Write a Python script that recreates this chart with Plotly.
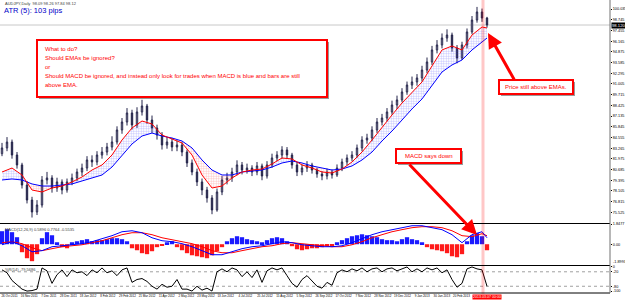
import plotly.graph_objects as go
from plotly.subplots import make_subplots

# ---------------- data ----------------
first_open = 82.6
close = [83.29, 84.00, 82.44, 81.24, 78.82, 77.01, 75.57, 76.41, 79.43, 79.67,
         78.46, 79.19, 78.22, 79.19, 79.67, 80.39, 80.87, 81.84, 81.60, 82.44,
         82.80, 83.41, 84.01, 85.46, 86.42, 87.51, 86.06, 87.63, 88.35, 86.66,
         85.70, 84.85, 83.65, 84.01, 83.41, 83.65, 82.80, 81.48, 80.39, 79.19,
         78.22, 77.26, 75.81, 77.98, 79.43, 79.67, 80.39, 81.24, 80.63, 80.87,
         80.39, 81.12, 79.91, 81.24, 82.08, 82.44, 83.05, 82.44, 81.24, 80.39,
         80.87, 81.24, 80.63, 80.15, 79.91, 80.39, 80.03, 80.87, 81.60, 82.08,
         82.44, 83.29, 84.25, 84.49, 85.46, 86.42, 86.90, 87.63, 88.47, 89.08,
         90.04, 90.88, 91.25, 91.73, 92.69, 93.66, 95.11, 95.71, 96.55, 96.91,
         95.35, 94.14, 95.71, 97.28, 98.72, 99.69, 98.96, 98.12]
high = [83.9, 84.6, 84.3, 82.8, 81.5, 79.3, 77.4, 77.0, 79.9, 80.4,
        80.0, 79.7, 79.5, 79.6, 80.2, 80.8, 81.4, 82.3, 82.4, 82.9,
        83.4, 83.9, 84.7, 85.9, 86.9, 88.1, 87.9, 88.2, 89.1, 88.6,
        87.2, 86.1, 85.2, 84.6, 84.5, 84.2, 84.0, 83.1, 81.9, 80.8,
        79.6, 78.6, 77.6, 78.4, 79.9, 80.3, 80.9, 81.8, 81.6, 81.4,
        81.2, 81.6, 81.4, 81.7, 82.6, 82.9, 83.5, 83.4, 82.7, 81.6,
        81.3, 81.7, 81.5, 80.9, 80.5, 80.8, 80.7, 81.3, 82.0, 82.5,
        82.9, 83.7, 84.7, 85.0, 85.9, 86.9, 87.4, 88.1, 89.0, 89.6,
        90.5, 91.3, 91.9, 92.2, 93.2, 94.2, 95.6, 96.3, 97.1, 97.6,
        97.2, 95.7, 96.1, 97.7, 99.2, 100.3, 100.1, 99.1]
low = [82.3, 82.9, 82.0, 80.8, 78.4, 76.6, 74.9, 75.2, 76.1, 78.9,
       77.9, 78.0, 77.7, 77.9, 78.8, 79.3, 79.9, 80.5, 81.0, 81.2,
       82.0, 82.4, 83.0, 83.7, 85.0, 86.0, 85.5, 85.7, 87.2, 86.2,
       85.1, 84.3, 83.1, 83.2, 82.9, 82.9, 82.3, 81.0, 80.0, 78.7,
       77.6, 76.7, 75.3, 75.6, 77.6, 78.9, 79.2, 80.0, 80.1, 80.2,
       79.9, 80.0, 79.4, 79.6, 80.9, 81.7, 82.0, 82.0, 80.8, 79.9,
       80.0, 80.4, 80.2, 79.7, 79.4, 79.5, 79.6, 79.8, 80.5, 81.2,
       81.7, 82.1, 82.9, 83.8, 84.1, 85.1, 86.0, 86.5, 87.3, 88.0,
       88.8, 89.7, 90.4, 90.8, 91.3, 92.3, 93.3, 94.7, 95.3, 96.1,
       94.9, 93.5, 93.9, 95.3, 97.0, 98.4, 98.5, 97.8]

ema_x = [0, 2, 4, 6, 8, 10, 12, 14, 16, 18, 20, 22, 24, 26, 28, 30, 32, 34, 36, 38,
         40, 42, 44, 46, 48, 50, 52, 54, 56, 58, 60, 62, 64, 66, 68, 70, 72, 74, 76, 78,
         80, 82, 84, 86, 88, 90, 92, 94, 96, 97]
ema_fast = [80.39, 80.87, 80.03, 78.22, 77.98, 78.46, 78.70, 79.19, 79.79, 80.63,
            81.24, 82.44, 84.25, 85.70, 86.54, 86.18, 84.85, 84.37, 83.89, 82.44,
            80.03, 78.46, 78.70, 79.67, 80.39, 80.63, 80.75, 81.36, 82.08, 81.96,
            81.24, 80.87, 80.39, 80.27, 80.75, 81.60, 82.80, 84.25, 85.82, 87.27,
            88.71, 90.04, 91.25, 93.18, 95.11, 95.59, 95.11, 96.91, 97.88, 97.76]
ema_slow = [79.43, 79.55, 79.43, 78.95, 78.70, 78.70, 78.82, 78.95, 79.31, 79.67,
            80.03, 80.99, 82.44, 83.77, 84.73, 85.09, 84.73, 84.49, 84.13, 83.29,
            81.84, 80.63, 80.03, 80.03, 80.39, 80.51, 80.63, 80.99, 81.48, 81.72,
            81.48, 81.12, 80.87, 80.63, 80.75, 81.12, 81.84, 82.80, 84.13, 85.33,
            86.66, 88.00, 89.20, 90.78, 92.45, 93.30, 93.90, 95.11, 96.07, 96.55]

macd_main = [-0.05, 0.23, -0.14, -0.69, -0.59, -0.23, -0.14, -0.05, 0.05, 0.23,
             0.50, 0.78, 1.14, 1.23, 1.05, 0.59, 0.32, 0.23, 0.05, -0.23,
             -0.59, -0.96, -0.96, -0.69, -0.41, -0.23, -0.14, 0.05, 0.23, 0.14,
             -0.05, -0.14, -0.23, -0.23, -0.14, 0.14, 0.50, 0.87, 1.14, 1.33,
             1.51, 1.69, 1.69, 1.51, 1.33, 0.87, 0.14, 0.87, 1.14, 0.59]
macd_signal = [0.14, 0.23, 0.05, -0.32, -0.59, -0.41, -0.23, -0.14, -0.05, 0.14,
               0.32, 0.59, 0.87, 1.05, 1.05, 0.87, 0.59, 0.41, 0.23, 0.05,
               -0.23, -0.59, -0.78, -0.78, -0.59, -0.41, -0.23, -0.14, 0.05, 0.14,
               0.05, -0.05, -0.14, -0.23, -0.23, -0.05, 0.23, 0.59, 0.87, 1.14,
               1.33, 1.51, 1.60, 1.60, 1.51, 1.23, 0.78, 0.69, 0.96, 0.78]
macd_hist = [1.19, 1.37, 1.10, 0.64, -0.73, -1.28, -1.55, -0.91, 0.55, 1.10,
             0.82, 0.18, -0.27, -0.37, 0.18, 0.27, 0.37, 0.46, 0.27, 0.37,
             0.37, 0.46, 0.55, 0.55, 0.46, 0.27, -0.37, -0.55, -0.82, -0.91,
             -0.64, -0.27, -0.09, 0.18, 0.27, -0.27, -0.55, -0.82, -1.01, -1.10,
             -1.19, -1.28, -1.01, -0.64, -0.27, 0.27, 0.55, 0.73, 0.64, 0.46,
             0.37, 0.27, 0.18, 0.37, 0.55, 0.64, 0.55, 0.27, -0.18, -0.46,
             -0.55, -0.46, -0.37, -0.37, -0.27, -0.18, -0.18, 0.18, 0.37, 0.55,
             0.73, 0.82, 0.91, 0.82, 0.73, 0.64, 0.46, 0.37, 0.37, 0.27,
             0.46, 0.64, 0.46, 0.37, 0.18, -0.27, -0.46, -0.55, -0.64, -0.82,
             -1.10, -1.19, -0.91, 0.27, 0.82, 1.01, 0.73, -0.55]
wpr = [-12, -24, -56, -76, -92, -100, -98, -92, -4, -16,
       -68, -32, -12, -40, -12, -24, -20, -36, -12, -24,
       -4, -24, -16, -36, -12, -4, -64, -52, -48, -60,
       -80, -92, -72, -84, -80, -52, -92, -92, -100, -80,
       -96, -88, -100, -20, -8, -20, -4, -12, -40, -20,
       -44, -12, -64, -16, -4, -12, -4, -36, -68, -84,
       -52, -36, -60, -80, -88, -64, -76, -24, -12, -20,
       -8, -16, -4, -20, -8, -4, -20, -8, -4, -16,
       -8, 0, -20, -8, -20, -4, -12, -4, -24, -12,
       -52, -84, -68, -8, 0, -8, -12, -80]

date_labels = ["26 Oct 2011", "16 Nov 2011", "7 Dec 2011", "28 Dec 2011", "18 Jan 2012",
               "8 Feb 2012", "29 Feb 2012", "21 Mar 2012", "11 Apr 2012", "2 May 2012",
               "23 May 2012", "13 Jun 2012", "4 Jul 2012", "25 Jul 2012", "15 Aug 2012",
               "5 Sep 2012", "26 Sep 2012", "17 Oct 2012", "7 Nov 2012", "28 Nov 2012",
               "19 Dec 2012", "9 Jan 2013", "30 Jan 2013", "20 Feb 2013"]
price_ticks = [100.035, 98.745, 97.455, 96.165, 94.875, 93.585, 92.295, 91.005, 89.715,
               88.425, 87.135, 85.845, 84.555, 83.265, 81.975, 80.685, 79.395, 78.105,
               76.815, 75.525, 74.235]
last_price = 98.12
macd_max, macd_min = 1.8477, -1.8993
wpr_ticks = [0, -20, -80, -100]
box_lines = ["What to do?", "Should EMAs be ignored?", "or",
             "Should MACD be ignored, and instead only look for trades when MACD is blue and bars are still",
             "above EMA."]

# ---------------- layout helpers ----------------
W, H = 625, 303
MR, MB = 15, 10
PW, PH = W - MR, H - MB


def px(x):
    return x / PW


def py(y):
    return (PH - y) / PH


n = len(close)
xi = list(range(n))
opens = [first_open] + close[:-1]

fig = make_subplots(rows=3, cols=1, shared_xaxes=True)

# EMA channel fills, split where the lines cross
segs = []
cx, ca, cb = [ema_x[0]], [ema_fast[0]], [ema_slow[0]]
sign = ema_fast[0] >= ema_slow[0]
for k in range(1, len(ema_x)):
    s = ema_fast[k] >= ema_slow[k]
    if s != sign:
        d0 = ema_fast[k - 1] - ema_slow[k - 1]
        d1 = ema_fast[k] - ema_slow[k]
        t = d0 / (d0 - d1)
        xc = ema_x[k - 1] + t * (ema_x[k] - ema_x[k - 1])
        yc = ema_fast[k - 1] + t * (ema_fast[k] - ema_fast[k - 1])
        cx.append(xc); ca.append(yc); cb.append(yc)
        segs.append((sign, cx, ca, cb))
        cx, ca, cb = [xc], [yc], [yc]
        sign = s
    cx.append(ema_x[k]); ca.append(ema_fast[k]); cb.append(ema_slow[k])
segs.append((sign, cx, ca, cb))

for up, sx, sa, sb in segs:
    col = "#4a4aff" if up else "#ff4a4a"
    fig.add_trace(go.Scatter(
        x=sx + sx[::-1], y=sa + sb[::-1], fill="toself", mode="none",
        fillcolor="rgba(255,255,255,0)",
        fillpattern=dict(shape="+", fgcolor=col, bgcolor="rgba(255,255,255,0)",
                         size=2.5, solidity=0.25),
        hoverinfo="skip", showlegend=False), row=1, col=1)

fig.add_trace(go.Candlestick(
    x=xi, open=opens, high=high, low=low, close=close,
    increasing=dict(line=dict(color="#24244a", width=1), fillcolor="#ffffff"),
    decreasing=dict(line=dict(color="#24244a", width=1), fillcolor="#24244a"),
    whiskerwidth=0, showlegend=False), row=1, col=1)

fig.add_trace(go.Scatter(x=ema_x, y=ema_slow, mode="lines",
                         line=dict(color="#0000ff", width=1), showlegend=False), row=1, col=1)
fig.add_trace(go.Scatter(x=ema_x, y=ema_fast, mode="lines",
                         line=dict(color="#ff0000", width=1), showlegend=False), row=1, col=1)

# MACD panel
fig.add_trace(go.Bar(x=xi, y=macd_hist,
                     marker=dict(color=["#1a1aff" if v >= 0 else "#ff1a1a" for v in macd_hist],
                                 line=dict(width=0)),
                     showlegend=False), row=2, col=1)
fig.add_trace(go.Scatter(x=ema_x, y=macd_signal, mode="lines",
                         line=dict(color="#ff0000", width=1), showlegend=False), row=2, col=1)
fig.add_trace(go.Scatter(x=ema_x, y=macd_main, mode="lines",
                         line=dict(color="#0000ff", width=1), showlegend=False), row=2, col=1)

# WPR panel
fig.add_trace(go.Scatter(x=xi, y=wpr, mode="lines",
                         line=dict(color="#000000", width=1), showlegend=False), row=3, col=1)

xr = [-0.4, (PW - 2) / 5.0]
tickfont = dict(family="Liberation Sans", size=3.8, color="#000000")
datefont = dict(family="Liberation Sans", size=3.0, color="#000000")
for ax in ("xaxis", "xaxis2", "xaxis3"):
    fig.layout[ax].update(range=xr, showgrid=False, zeroline=False, showticklabels=False,
                          ticks="", rangeslider=dict(visible=False))
fig.layout.xaxis3.update(showticklabels=True, tickangle=0,
                         tickvals=[1.5 + 3.93 * k for k in range(len(date_labels))],
                         ticktext=date_labels, tickfont=datefont, automargin=False)

fig.layout.yaxis.update(domain=[py(223), 1], range=[74.24, 101.135], side="right",
                        tickvals=price_ticks, ticktext=["%.3f" % v for v in price_ticks],
                        tickfont=tickfont, ticks="outside", ticklen=1, tickcolor="#000",
                        showgrid=False, zeroline=False, automargin=False)
fig.layout.yaxis2.update(domain=[py(265), py(224)], range=[macd_min, macd_max], side="right",
                         tickvals=[macd_max, 0.0], ticktext=["%.4f" % macd_max, "0.00"],
                         tickfont=tickfont, ticks="outside", ticklen=1, tickcolor="#000",
                         showgrid=False, zeroline=False, automargin=False)
fig.layout.yaxis3.update(domain=[0, py(266)], range=[-108, 4], side="right",
                         tickvals=wpr_ticks, ticktext=[str(v) for v in wpr_ticks],
                         tickfont=tickfont, ticks="outside", ticklen=1, tickcolor="#000",
                         showgrid=False, zeroline=False, automargin=False)

shapes = []
shapes.append(dict(type="line", xref="paper", yref="y", x0=0, x1=1, y0=last_price, y1=last_price,
                   line=dict(color="#c8c8c8", width=1), layer="below"))
for lv in (-20, -80):
    shapes.append(dict(type="line", xref="paper", yref="y3", x0=0, x1=1, y0=lv, y1=lv,
                       line=dict(color="#a0a0a0", width=1, dash="dot"), layer="below"))
shapes.append(dict(type="line", xref="x", yref="paper", x0=96.2, x1=96.2, y0=py(294), y1=1,
                   line=dict(color="rgba(255,0,0,0.22)", width=3)))
for yy in (223.5, 265.5, 293):
    shapes.append(dict(type="line", xref="paper", yref="paper", x0=0, x1=1, y0=py(yy), y1=py(yy),
                       line=dict(color="#000000", width=1)))
shapes.append(dict(type="line", xref="paper", yref="paper", x0=1, x1=1, y0=0, y1=1,
                   line=dict(color="#707070", width=1)))


def box(x0, y0, x1, y1):
    shapes.append(dict(type="rect", xref="paper", yref="paper",
                       x0=px(x0 + 2), x1=px(x1 + 2), y0=py(y1 + 2), y1=py(y0 + 2),
                       fillcolor="#9a9a9a", line=dict(width=0)))
    shapes.append(dict(type="rect", xref="paper", yref="paper",
                       x0=px(x0), x1=px(x1), y0=py(y1), y1=py(y0),
                       fillcolor="#ffffff", line=dict(color="#ff0000", width=2)))


box(37, 40, 327, 97)
box(396, 149, 461, 163)
box(499, 80, 573, 94)

red = "#ff0000"
ann = []
for k, t in enumerate(box_lines):
    ann.append(dict(x=px(43), y=py(48.5 + 9.1 * k), xref="paper", yref="paper", text=t,
                    showarrow=False, xanchor="left", yanchor="middle",
                    font=dict(family="Liberation Sans", size=6, color=red)))
ann.append(dict(x=px(428.5), y=py(156), xref="paper", yref="paper", text="MACD says down",
                showarrow=False, xanchor="center", yanchor="middle",
                font=dict(family="Liberation Sans", size=6, color=red)))
ann.append(dict(x=px(536), y=py(87), xref="paper", yref="paper", text="Price still above EMAs.",
                showarrow=False, xanchor="center", yanchor="middle",
                font=dict(family="Liberation Sans", size=6, color=red)))
ann.append(dict(x=px(477), y=py(235), xref="paper", yref="paper", ax=-69, ay=-72, text="",
                showarrow=True, arrowhead=2, arrowsize=1, arrowwidth=3, arrowcolor=red, standoff=0))
ann.append(dict(x=px(488), y=py(33), xref="paper", yref="paper", ax=27, ay=48, text="",
                showarrow=True, arrowhead=2, arrowsize=1, arrowwidth=3, arrowcolor=red, standoff=0))
ann.append(dict(x=px(3), y=py(3), xref="paper", yref="paper", text="AUDJPY,Daily  98.09 98.26 97.84 98.12",
                showarrow=False, xanchor="left", yanchor="middle",
                font=dict(family="Liberation Sans", size=4, color="#404040")))
ann.append(dict(x=px(2), y=py(10.5), xref="paper", yref="paper", text="ATR (5): 103 pips",
                showarrow=False, xanchor="left", yanchor="middle",
                font=dict(family="Liberation Sans", size=7.5, color="#0000c8")))
ann.append(dict(x=px(3), y=py(229), xref="paper", yref="paper",
                text="MACD(12,26,9) 0.5896 0.7764 -0.5535",
                showarrow=False, xanchor="left", yanchor="middle",
                font=dict(family="Liberation Sans", size=4, color="#404040")))
ann.append(dict(x=px(3), y=py(269.5), xref="paper", yref="paper", text="%R(14) -79.5686",
                showarrow=False, xanchor="left", yanchor="middle",
                font=dict(family="Liberation Sans", size=4, color="#404040")))
ann.append(dict(x=1, xref="paper", y=py(262), yref="paper", text="%.4f" % macd_min, showarrow=False,
                xanchor="left", xshift=1, yanchor="middle",
                font=dict(family="Liberation Sans", size=3.8, color="#000000")))
ann.append(dict(x=1, xref="paper", y=last_price, yref="y", text="98.120", showarrow=False,
                xanchor="left", xshift=1, yanchor="middle", bgcolor="#000000", borderpad=0,
                font=dict(family="Liberation Sans", size=4.2, color="#ffffff")))
ann.append(dict(x=97.0, xref="x", y=py(297), yref="paper", text="2013.03.07 00:00", showarrow=False,
                xanchor="center", yanchor="middle", bgcolor="#ff0000", borderpad=0,
                font=dict(family="Liberation Sans", size=3.6, color="#ffffff")))

fig.update_layout(width=W, height=H, margin=dict(l=0, r=MR, t=0, b=MB),
                  paper_bgcolor="#ffffff", plot_bgcolor="#ffffff",
                  bargap=0.15, boxgap=0.6, showlegend=False, shapes=shapes, annotations=ann)

fig.write_html("out.html")
